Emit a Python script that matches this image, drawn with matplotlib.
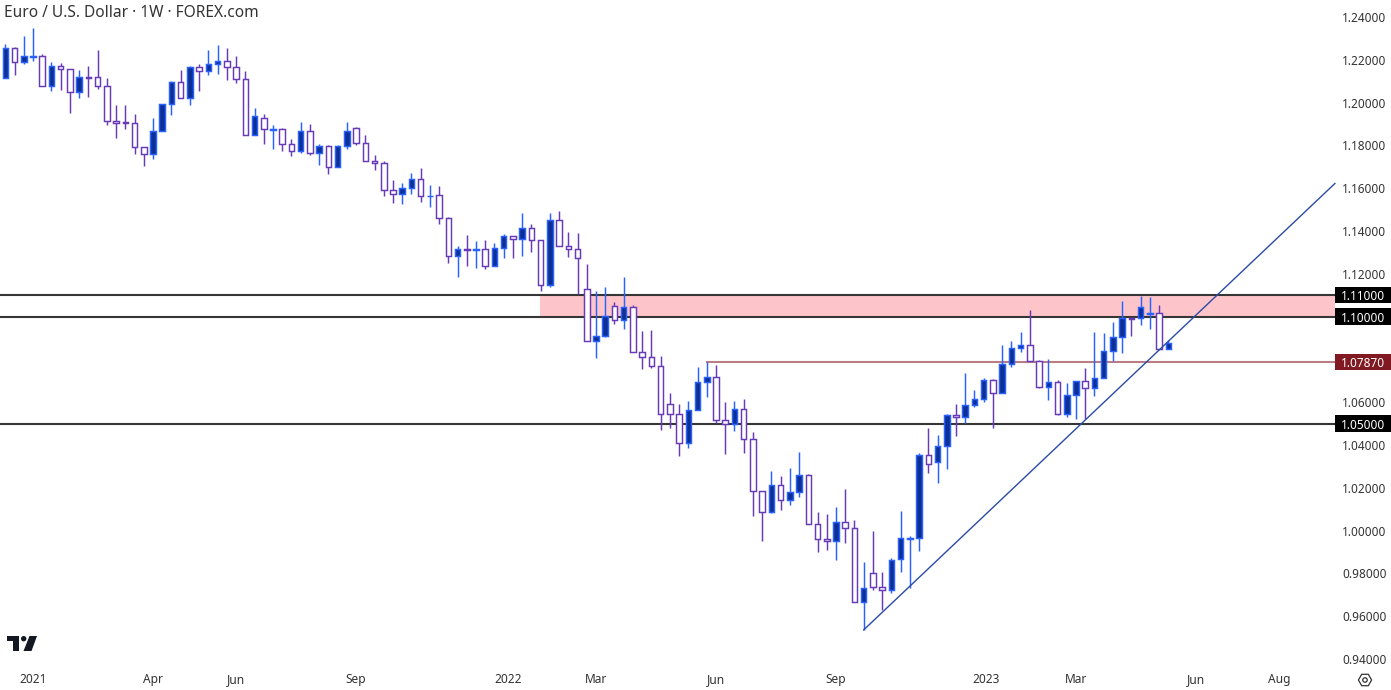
import matplotlib
matplotlib.use("Agg")
import matplotlib.pyplot as plt
from matplotlib.patches import Rectangle, Polygon, Circle, RegularPolygon
from matplotlib.transforms import blended_transform_factory

opens = [1.2113, 1.2254, 1.2188, 1.2214, 1.2216, 1.2076, 1.2169, 1.2155, 1.2048, 1.2118,
         1.2118, 1.2076, 1.1912, 1.1909, 1.1903, 1.1791, 1.1758, 1.1866, 1.1992, 1.2095,
         1.2020, 1.2165, 1.2146, 1.2179, 1.2193, 1.2165, 1.2109, 1.1847, 1.1926, 1.1874,
         1.1875, 1.1805, 1.1772, 1.1866, 1.1763, 1.1796, 1.1697, 1.1796, 1.1880, 1.1810,
         1.1726, 1.1716, 1.1590, 1.1571, 1.1599, 1.1641, 1.1562, 1.1567, 1.1459, 1.1282,
         1.1314, 1.1310, 1.1314, 1.1235, 1.1319, 1.1375, 1.1361, 1.1413, 1.1356, 1.1146,
         1.1450, 1.1328, 1.1314, 1.1127, 1.0884, 1.0908, 1.1048, 1.0983, 1.1043, 1.0833,
         1.0810, 1.0768, 1.0590, 1.0543, 1.0408, 1.0562, 1.0693, 1.0716, 1.0515, 1.0497,
         1.0567, 1.0427, 1.0184, 1.0085, 1.0212, 1.0142, 1.0179, 1.0258, 1.0029, 0.9959,
         0.9950, 1.0039, 1.0011, 0.9665, 0.9800, 0.9735, 0.9721, 0.9866, 0.9962, 0.9964,
         1.0352, 1.0319, 1.0394, 1.0539, 1.0529, 1.0585, 1.0613, 1.0702, 1.0641, 1.0777,
         1.0852, 1.0866, 1.0791, 1.0673, 1.0693, 1.0543, 1.0632, 1.0698, 1.0665, 1.0712,
         1.0838, 1.0903, 1.0992, 1.0992, 1.1014, 1.1015, 1.0847]
highs = [1.2274, 1.2258, 1.2311, 1.2349, 1.2226, 1.2190, 1.2183, 1.2155, 1.2152, 1.2171,
         1.2246, 1.2113, 1.1989, 1.1989, 1.1947, 1.1791, 1.1928, 1.1992, 1.2101, 1.2152,
         1.2171, 1.2180, 1.2246, 1.2269, 1.2255, 1.2218, 1.2148, 1.1975, 1.1947, 1.1894,
         1.1881, 1.1830, 1.1909, 1.1900, 1.1805, 1.1800, 1.1800, 1.1909, 1.1886, 1.1849,
         1.1755, 1.1726, 1.1638, 1.1624, 1.1671, 1.1694, 1.1615, 1.1610, 1.1464, 1.1330,
         1.1381, 1.1353, 1.1358, 1.1344, 1.1386, 1.1375, 1.1484, 1.1433, 1.1356, 1.1484,
         1.1493, 1.1395, 1.1391, 1.1246, 1.1118, 1.1138, 1.1068, 1.1185, 1.1054, 1.0933,
         1.0937, 1.0816, 1.0643, 1.0592, 1.0606, 1.0765, 1.0788, 1.0774, 1.0601, 1.0606,
         1.0615, 1.0459, 1.0184, 1.0279, 1.0255, 1.0293, 1.0367, 1.0264, 1.0085, 1.0078,
         1.0110, 1.0194, 1.0050, 0.9853, 0.9998, 0.9807, 0.9870, 1.0092, 0.9973, 1.0361,
         1.0479, 1.0447, 1.0543, 1.0592, 1.0737, 1.0657, 1.0712, 1.0707, 1.0867, 1.0886,
         1.0928, 1.1031, 1.0796, 1.0802, 1.0702, 1.0690, 1.0698, 1.0760, 1.0928, 1.0923,
         1.0975, 1.1073, 1.0992, 1.1098, 1.1092, 1.1054, 1.0889]
lows = [1.2113, 1.2131, 1.2182, 1.2196, 1.2076, 1.2056, 1.2060, 1.1953, 1.2023, 1.2028,
        1.2065, 1.1897, 1.1836, 1.1878, 1.1761, 1.1705, 1.1738, 1.1866, 1.1944, 1.2020,
        1.1990, 1.2056, 1.2131, 1.2135, 1.2107, 1.2093, 1.1847, 1.1847, 1.1808, 1.1785,
        1.1775, 1.1752, 1.1766, 1.1757, 1.1710, 1.1668, 1.1697, 1.1785, 1.1804, 1.1726,
        1.1687, 1.1565, 1.1532, 1.1528, 1.1574, 1.1537, 1.1514, 1.1434, 1.1252, 1.1187,
        1.1238, 1.1229, 1.1224, 1.1235, 1.1274, 1.1274, 1.1283, 1.1302, 1.1121, 1.1140,
        1.1328, 1.1279, 1.1104, 1.0884, 1.0808, 1.0903, 1.0964, 1.0942, 1.0833, 1.0757,
        1.0762, 1.0472, 1.0481, 1.0350, 1.0388, 1.0562, 1.0626, 1.0504, 1.0360, 1.0467,
        1.0364, 1.0070, 0.9953, 1.0081, 1.0098, 1.0121, 1.0159, 1.0029, 0.9902, 0.9911,
        0.9864, 0.9944, 0.9665, 0.9536, 0.9724, 0.9629, 0.9707, 0.9808, 0.9730, 0.9906,
        1.0269, 1.0224, 1.0289, 1.0444, 1.0501, 1.0576, 1.0599, 1.0481, 1.0641, 1.0766,
        1.0836, 1.0791, 1.0668, 1.0612, 1.0539, 1.0531, 1.0523, 1.0520, 1.0629, 1.0712,
        1.0791, 1.0832, 1.0911, 1.0962, 1.0944, 1.0847, 1.0847]
closes = [1.2254, 1.2188, 1.2216, 1.2216, 1.2076, 1.2169, 1.2155, 1.2048, 1.2118, 1.2116,
          1.2076, 1.1912, 1.1906, 1.1903, 1.1791, 1.1758, 1.1866, 1.1992, 1.2095, 1.2020,
          1.2165, 1.2146, 1.2179, 1.2193, 1.2165, 1.2109, 1.1847, 1.1936, 1.1875, 1.1875,
          1.1805, 1.1772, 1.1866, 1.1763, 1.1796, 1.1697, 1.1796, 1.1866, 1.1810, 1.1726,
          1.1716, 1.1590, 1.1571, 1.1599, 1.1641, 1.1562, 1.1565, 1.1459, 1.1282, 1.1314,
          1.1310, 1.1314, 1.1235, 1.1319, 1.1375, 1.1361, 1.1413, 1.1356, 1.1146, 1.1450,
          1.1328, 1.1314, 1.1272, 1.0884, 1.0908, 1.1001, 1.0983, 1.1043, 1.0833, 1.0810,
          1.0768, 1.0543, 1.0543, 1.0408, 1.0562, 1.0693, 1.0716, 1.0515, 1.0497, 1.0567,
          1.0427, 1.0184, 1.0085, 1.0212, 1.0142, 1.0179, 1.0258, 1.0029, 0.9959, 0.9950,
          1.0039, 1.0011, 0.9665, 0.9730, 0.9735, 0.9721, 0.9861, 0.9964, 0.9965, 1.0352,
          1.0310, 1.0394, 1.0539, 1.0529, 1.0585, 1.0613, 1.0702, 1.0641, 1.0777, 1.0852,
          1.0866, 1.0791, 1.0673, 1.0693, 1.0543, 1.0632, 1.0698, 1.0665, 1.0712, 1.0838,
          1.0903, 1.0992, 1.0990, 1.1043, 1.1015, 1.0847, 1.0875]

price_ticks = [1.24, 1.22, 1.20, 1.18, 1.16, 1.14, 1.12, 1.06, 1.04, 1.02, 1.00, 0.98, 0.96, 0.94]
date_ticks = [3, 16, 25, 38, 54.5, 64, 77, 90, 106.3, 116, 129, 138]
date_labels = ["2021", "Apr", "Jun", "Sep", "2022", "Mar", "Jun", "Sep", "2023", "Mar", "Jun", "Aug"]
bold_dates = ["2022", "2023", "2021"]

level_lines = [1.11, 1.10, 1.05]
resistance_level = 1.0787
zone_low, zone_high = 1.10, 1.11
zone_start = 57.9
resistance_start = 76
trend_x = [93, 144.05]
trend_y = [0.9536, 1.1622]

blue_edge = "#2962ff"
blue_fill = "#0d3096"
purple = "#673ab7"
line_dark = "#363636"
text_col = "#333333"
font = "Noto Sans"

W, H = 1391, 690
fig = plt.figure(figsize=(W / 100, H / 100), dpi=100, facecolor="white")
ax = fig.add_axes([0, 23 / H, 1335 / W, 667 / H])
ax.set_xlim(-0.574, 144.06)
ax.set_ylim(0.93626, 1.24794)

# zone and levels sit under the candles
ax.add_patch(Rectangle((zone_start, zone_low), 200, zone_high - zone_low, fc="#fdc5ca", ec="none", zorder=1))
for lvl in level_lines:
    ax.axhline(lvl, color=line_dark, lw=1.5, zorder=2)
ax.plot([resistance_start, 150], [resistance_level, resistance_level], color="#b97d83", lw=1.5, zorder=2)

for i in range(len(opens)):
    up = closes[i] >= opens[i]
    edge = blue_edge if up else purple
    fill = blue_fill if up else "white"
    ax.vlines(i, lows[i], highs[i], color=edge, lw=1.05, zorder=3)
    ax.bar(i, abs(closes[i] - opens[i]), bottom=min(opens[i], closes[i]), width=0.6,
           facecolor=fill, edgecolor=edge, linewidth=1.05, zorder=4)

ax.plot(trend_x, trend_y, color="#2b4ba6", lw=1.0, zorder=5, clip_on=False)

for s in ax.spines.values():
    s.set_visible(False)
ax.yaxis.tick_right()
ax.set_yticks(price_ticks)
ax.set_yticklabels(["%.5f" % p for p in price_ticks], fontsize=8.5, color=text_col, family=font)
ax.set_xticks(date_ticks)
xlabs = ax.set_xticklabels(date_labels, fontsize=8.6, color=text_col, family=font)
for lab in xlabs:
    if lab.get_text() in bold_dates:
        lab.set_fontweight("bold")
ax.tick_params(axis="y", length=0, pad=5)
ax.tick_params(axis="x", length=0, pad=4.5)

# price tags on the right scale
trans = blended_transform_factory(ax.transAxes, ax.transData)
tags = [(1.11, "#000000"), (1.10, "#000000"), (resistance_level, "#801922"), (1.05, "#000000")]
for val, col in tags:
    ax.add_patch(Rectangle((1.0, val - 8 / 2140), 56 / 1335, 16.5 / 2140, transform=trans, fc=col, ec="none",
                           clip_on=False, zorder=6))
    ax.text(1.0 + 28 / 1335, val, "%.5f" % val, transform=trans, color="white", fontsize=8.5, family=font,
            weight="medium", ha="center", va="center_baseline", zorder=7, clip_on=False)

# overlay in pixel coordinates for header, logo and settings icon
ov = fig.add_axes([0, 0, 1, 1], facecolor="none")
ov.set_xlim(0, W)
ov.set_ylim(H, 0)
ov.axis("off")
ov.text(4, 13, "Euro / U.S. Dollar · 1W · FOREX.com", fontsize=11.15, color=text_col, family=font,
        ha="left", va="center")

logo = "#131722"
ov.add_patch(Polygon([(7, 636), (19, 636), (19, 651), (13, 651), (13, 641), (7, 641)], fc=logo, ec="none"))
ov.add_patch(Circle((23.7, 638.7), 2.7, fc=logo, ec="none"))
ov.add_patch(Polygon([(29.5, 636), (37, 636), (31.5, 651), (23.5, 651)], fc=logo, ec="none"))
ov.add_patch(RegularPolygon((1365, 680), 6, radius=6.6, orientation=3.14159 / 6, fc="none", ec=text_col, lw=0.9))
ov.add_patch(Circle((1365, 680), 2.2, fc="none", ec=text_col, lw=0.9))

fig.savefig("out.png", dpi=100)
